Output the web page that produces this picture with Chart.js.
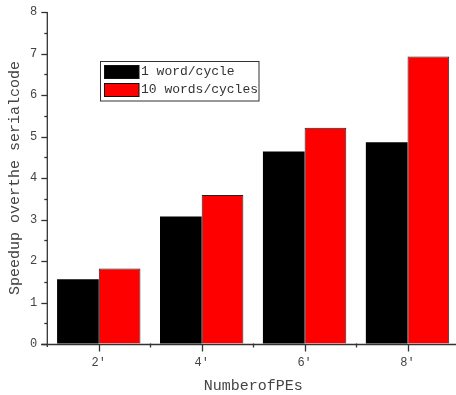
<!DOCTYPE html>
<html>
<head>
<meta charset="utf-8">
<script src="https://cdn.jsdelivr.net/npm/chart.js@4"></script>
<style>
html,body{margin:0;padding:0;background:#fff;overflow:hidden;}
#wrap{position:absolute;left:0;top:0;width:462px;height:395px;}
</style>
</head>
<body>
<div id="wrap"><canvas id="c"></canvas></div>
<script>
const categories = ["2\u2032", "4\u2032", "6\u2032", "8\u2032"];
const seriesNames = ["1 word/cycle", "10 words/cycles"];
const oneWord = [1.56, 3.07, 4.64, 4.86];
const tenWords = [1.82, 3.59, 5.21, 6.93];
const yTicks = [0, 1, 2, 3, 4, 5, 6, 7, 8];
const xTitle = "NumberofPEs";
const yTitle = "Speedup overthe serialcode";

const FONT = "'Liberation Mono', 'DejaVu Sans Mono', monospace";

const axesPlugin = {
  id: 'axesDraw',
  afterDatasetsDraw(chart) {
    const {ctx, chartArea: a, scales: {x, y}} = chart;
    ctx.save();
    ctx.strokeStyle = '#333';
    ctx.lineWidth = 1.3;
    const line = (x1, y1, x2, y2) => { ctx.beginPath(); ctx.moveTo(x1, y1); ctx.lineTo(x2, y2); ctx.stroke(); };
    line(a.left, a.top, a.left, a.bottom + 3);
    for (let v = yTicks[0]; v <= yTicks[yTicks.length - 1]; v += 0.5) {
      const py = Math.round(y.getPixelForValue(v)) + 0.5;
      const len = (v % 1 === 0) ? 6 : 3;
      line(a.left - len, py, a.left, py);
    }
    const by = Math.round(a.bottom) + 0.5;
    line(a.left - 6, by, a.right, by);
    const n = x.ticks.length;
    for (let i = 0; i < n; i++) {
      const px = Math.round(x.getPixelForTick(i)) + 0.5;
      line(px, by, px, by + 7);
    }
    for (let i = 1; i < n; i++) {
      const px = Math.round((x.getPixelForTick(i - 1) + x.getPixelForTick(i)) / 2) + 0.5;
      line(px, by - 1, px, by + 3);
    }
    ctx.restore();
  }
};

const legendPlugin = {
  id: 'boxLegend',
  afterDraw(chart) {
    const ctx = chart.ctx;
    ctx.save();
    ctx.strokeStyle = '#333';
    ctx.lineWidth = 1;
    ctx.strokeRect(100.5, 61.5, 158.5, 39.5);
    const rows = [71.5, 89.5];
    chart.data.datasets.forEach((ds, i) => {
      const cy = rows[i];
      ctx.fillStyle = ds.backgroundColor;
      ctx.fillRect(104, cy - 6.5, 35, 13.5);
      ctx.strokeStyle = '#111';
      ctx.strokeRect(104.5, cy - 6, 34.5, 13);
      ctx.fillStyle = '#333';
      ctx.font = "13px " + FONT;
      ctx.textBaseline = 'middle';
      ctx.textAlign = 'left';
      ctx.fillText(ds.label, 141, cy);
    });
    ctx.restore();
  }
};

new Chart(document.getElementById('c'), {
  type: 'bar',
  data: {
    labels: categories,
    datasets: [
      { label: seriesNames[0], data: oneWord, backgroundColor: '#000000', borderColor: '#000000', borderWidth: 0 },
      { label: seriesNames[1], data: tenWords, backgroundColor: '#ff0000', borderColor: '#222222', borderWidth: 1 }
    ]
  },
  options: {
    responsive: true,
    maintainAspectRatio: false,
    animation: false,
    layout: { padding: { left: 6, top: 12, right: 3, bottom: 0 } },
    datasets: { bar: { categoryPercentage: 0.81, barPercentage: 1.0 } },
    plugins: { legend: { display: false }, tooltip: { enabled: false } },
    scales: {
      x: {
        grid: { display: true, drawOnChartArea: false, drawTicks: true, tickLength: 7, tickColor: 'rgba(0,0,0,0)' },
        border: { display: false },
        ticks: { color: '#444', font: { family: FONT, size: 12 }, padding: 5 },
        title: { display: true, text: xTitle, color: '#444', font: { family: FONT, size: 15 }, padding: 0 },
        afterFit(s) { s.height = 51; }
      },
      y: {
        min: 0, max: 8,
        afterBuildTicks(s) { s.ticks = yTicks.map(v => ({ value: v })); },
        grid: { display: true, drawOnChartArea: false, drawTicks: true, tickLength: 6, tickColor: 'rgba(0,0,0,0)' },
        border: { display: false },
        ticks: { color: '#444', font: { family: FONT, size: 12 }, padding: 4 },
        title: { display: true, text: yTitle, color: '#444', font: { family: FONT, size: 15 }, padding: 0 },
        afterFit(s) { s.width = 41.3; }
      }
    }
  },
  plugins: [axesPlugin, legendPlugin]
});
</script>
</body>
</html>
